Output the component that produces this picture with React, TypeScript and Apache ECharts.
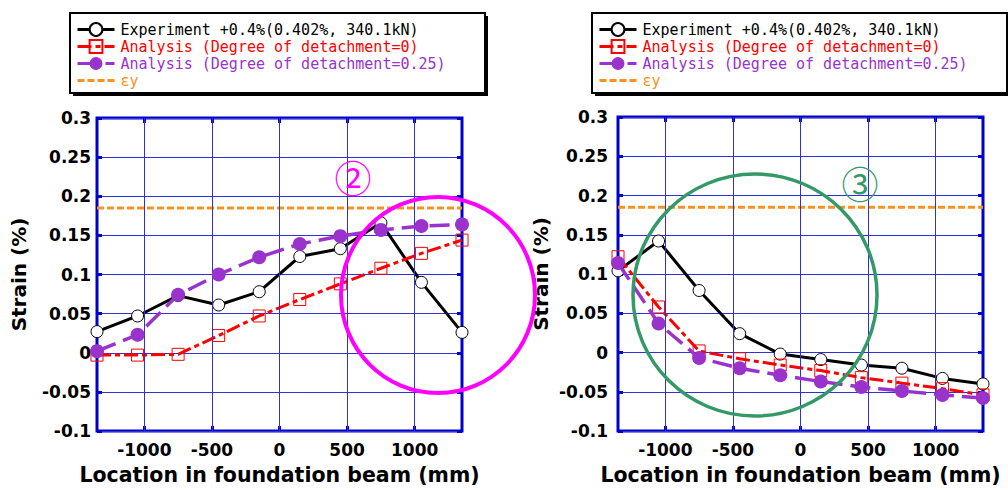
import React, { useEffect, useRef } from "react";
import * as echarts from "echarts";

// Gauge locations along the foundation beam (mm)
const positions = [-1350, -1050, -750, -450, -150, 150, 450, 750, 1050, 1350];

// Panel ② (left)
const exp2 = [0.027, 0.047, 0.073, 0.061, 0.078, 0.123, 0.133, 0.166, 0.09, 0.026];
const ana0_2 = [-0.003, -0.003, -0.002, 0.022, 0.047, 0.068, 0.088, 0.108, 0.127, 0.144];
const ana25_2 = [0.002, 0.023, 0.074, 0.1, 0.122, 0.139, 0.149, 0.157, 0.162, 0.164];

// Panel ③ (right)
const exp3 = [0.104, 0.142, 0.079, 0.024, -0.002, -0.009, -0.016, -0.02, -0.033, -0.04];
const ana0_3 = [0.122, 0.058, 0.002, -0.008, -0.016, -0.023, -0.032, -0.039, -0.046, -0.054];
const ana25_3 = [0.114, 0.037, -0.007, -0.02, -0.029, -0.037, -0.044, -0.049, -0.054, -0.058];

// Yield strain (%)
const yieldStrain = 0.185;

// Axis settings
const xTicks = [-1000, -500, 0, 500, 1000];
const X_MIN = -1350;
const X_MAX = 1350;
const Y_MIN = -0.1;
const Y_MAX = 0.3;
const Y_STEP = 0.05;

const NAME_EXP = "Experiment +0.4%(0.402%, 340.1kN)";
const NAME_A0 = "Analysis (Degree of detachment=0)";
const NAME_A25 = "Analysis (Degree of detachment=0.25)";
const NAME_EY = "εy";
const X_TITLE = "Location in foundation beam (mm)";
const Y_TITLE = "Strain (%)";

const C_BLACK = "#000000";
const C_RED = "#ff0000";
const C_PURPLE = "#9933cc";
const C_ORANGE = "#f7931e";
const C_FRAME = "#0000cc";
const C_GRID = "#3030d8";
const C_MAGENTA = "#ff00ff";
const C_GREEN = "#339966";
const TRANSPARENT = "rgba(0,0,0,0)";

const zip = (ys: number[]) => positions.map((x, i) => [x, ys[i]]);

const FONT_AX = "DejaVu Sans";
const FONT_LEG = "DejaVu Sans Mono";

function buildSeries(gi: number, exp: number[], a0: number[], a25: number[]) {
  const xi = gi * 2;
  const yi = gi * 2;
  const common = { xAxisIndex: xi, yAxisIndex: yi, type: "line", emphasis: { disabled: true } };
  return [
    {
      // vertical grid lines at the labelled locations
      ...common,
      name: "grid-" + gi,
      data: [],
      silent: true,
      z: 1,
      markLine: {
        silent: true,
        symbol: ["none", "none"],
        label: { show: false },
        lineStyle: { color: C_GRID, width: 1, type: "solid" },
        emphasis: { disabled: true },
        data: xTicks.map((v) => ({ xAxis: v })),
      },
    },
    {
      ...common,
      name: NAME_EY,
      data: [
        [X_MIN, yieldStrain],
        [X_MAX, yieldStrain],
      ],
      symbol: "none",
      color: C_ORANGE,
      lineStyle: { color: C_ORANGE, width: 3, type: [7, 3] },
      z: 2,
    },
    {
      ...common,
      name: NAME_EXP,
      data: zip(exp),
      symbol: "circle",
      symbolSize: 12,
      color: C_BLACK,
      itemStyle: { color: "#ffffff", borderColor: C_BLACK, borderWidth: 1 },
      lineStyle: { color: C_BLACK, width: 3 },
      z: 3,
    },
    {
      ...common,
      name: NAME_A0,
      data: zip(a0),
      symbol: "rect",
      symbolSize: 12,
      color: C_RED,
      itemStyle: { color: "rgba(255,255,255,0)", borderColor: C_RED, borderWidth: 1 },
      lineStyle: { color: C_RED, width: 3, type: [14, 4, 5, 4] },
      z: 4,
    },
    {
      ...common,
      name: NAME_A25,
      data: zip(a25),
      symbol: "circle",
      symbolSize: 14,
      color: C_PURPLE,
      itemStyle: { color: C_PURPLE },
      lineStyle: { color: C_PURPLE, width: 3.5, type: [20, 8] },
      z: 5,
    },
  ];
}

function xAxes(gi: number) {
  const tick = {
    show: true,
    inside: true,
    length: 5,
    customValues: xTicks,
    lineStyle: { color: C_FRAME, width: 3 },
  };
  return [
    {
      gridIndex: gi,
      type: "value",
      position: "bottom",
      min: X_MIN,
      max: X_MAX,
      axisLine: { show: false, onZero: false },
      axisTick: tick,
      axisLabel: {
        customValues: xTicks,
        formatter: (v: number) => String(v),
        margin: 10,
        color: "#000",
        fontFamily: FONT_AX,
        fontWeight: "bold",
        fontSize: 17,
      },
      splitLine: { show: false },
      name: X_TITLE,
      nameLocation: "middle",
      nameGap: 33,
      nameTextStyle: { color: "#000", fontFamily: FONT_AX, fontWeight: "bold", fontSize: 20.5 },
    },
    {
      gridIndex: gi,
      type: "value",
      position: "top",
      min: X_MIN,
      max: X_MAX,
      axisLine: { show: false, onZero: false },
      axisTick: tick,
      axisLabel: { show: false },
      splitLine: { show: false },
    },
  ];
}

function yAxes(gi: number, labelMargin: number, nameGap: number) {
  const tick = { show: true, inside: true, length: 5, lineStyle: { color: C_FRAME, width: 3 } };
  return [
    {
      gridIndex: gi,
      type: "value",
      position: "left",
      min: Y_MIN,
      max: Y_MAX,
      interval: Y_STEP,
      axisLine: { show: false, onZero: false },
      axisTick: tick,
      axisLabel: {
        margin: labelMargin,
        color: "#000",
        fontFamily: FONT_AX,
        fontWeight: "bold",
        fontSize: 17,
      },
      splitLine: { show: true, lineStyle: { color: C_GRID, width: 1 } },
      name: Y_TITLE,
      nameLocation: "middle",
      nameRotate: 90,
      nameGap,
      nameTextStyle: { color: "#000", fontFamily: FONT_AX, fontWeight: "bold", fontSize: 20 },
    },
    {
      gridIndex: gi,
      type: "value",
      position: "right",
      min: Y_MIN,
      max: Y_MAX,
      interval: Y_STEP,
      axisLine: { show: false, onZero: false },
      axisTick: tick,
      axisLabel: { show: false },
      splitLine: { show: false },
    },
  ];
}

function legend(left: number) {
  return {
    orient: "vertical",
    left,
    top: 13,
    padding: [9, 20, 6, 6],
    itemGap: 2,
    itemWidth: 37,
    itemHeight: 16,
    backgroundColor: "transparent",
    borderWidth: 0,
    selectedMode: false,
    lineStyle: { width: 3 },
    textStyle: { fontFamily: FONT_LEG, fontSize: 15, padding: [0, 0, 0, 1] },
    data: [
      { name: NAME_EXP, textStyle: { color: C_BLACK } },
      { name: NAME_A0, textStyle: { color: C_RED } },
      { name: NAME_A25, textStyle: { color: C_PURPLE } },
      {
        name: NAME_EY,
        itemStyle: { color: TRANSPARENT, borderColor: TRANSPARENT, borderWidth: 0 },
        textStyle: { color: C_ORANGE },
      },
    ],
  };
}

// legend frame boxes [left, top, width, height]
const legendBoxes = [
  [70, 13, 415, 80],
  [592, 13, 415, 80],
];

export default function App() {
  const ref = useRef<HTMLDivElement>(null);

  useEffect(() => {
    if (!ref.current) return;
    const chart = echarts.init(ref.current, null, { renderer: "svg" });
    const boxGraphics: any[] = [];
    legendBoxes.forEach(([l, t, w, h]) => {
      boxGraphics.push({
        type: "rect",
        z: 0,
        silent: true,
        shape: { x: l + 3, y: t + 3, width: w, height: h },
        style: { fill: "#000" },
      });
      boxGraphics.push({
        type: "rect",
        z: 0,
        silent: true,
        shape: { x: l, y: t, width: w, height: h },
        style: { fill: "#fff", stroke: "#000", lineWidth: 2 },
      });
    });
    const option = {
      animation: false,
      backgroundColor: "#fff",
      grid: [
        { left: 97, top: 118, width: 365, height: 316, show: true, borderColor: C_FRAME, borderWidth: 3, backgroundColor: "transparent" },
        { left: 618, top: 117, width: 365, height: 316, show: true, borderColor: C_FRAME, borderWidth: 3, backgroundColor: "transparent" },
      ],
      xAxis: [...xAxes(0), ...xAxes(1)],
      yAxis: [...yAxes(0, 6, 68), ...yAxes(1, 10, 67)],
      legend: [legend(70), legend(592)],
      series: [...buildSeries(0, exp2, ana0_2, ana25_2), ...buildSeries(1, exp3, ana0_3, ana25_3)],
      graphic: [
        ...boxGraphics,
        {
          type: "ellipse",
          z: 100,
          shape: { cx: 438, cy: 295, rx: 97, ry: 98 },
          style: { fill: "none", stroke: C_MAGENTA, lineWidth: 4 },
          silent: true,
        },
        {
          type: "text",
          z: 100,
          x: 353,
          y: 177,
          style: {
            text: "②",
            fontSize: 37,
            fontFamily: "Noto Sans CJK JP",
            fill: C_MAGENTA,
            align: "center",
            verticalAlign: "middle",
          },
        },
        {
          type: "ellipse",
          z: 100,
          shape: { cx: 755, cy: 295, rx: 122, ry: 121 },
          style: { fill: "none", stroke: C_GREEN, lineWidth: 3.5 },
          silent: true,
        },
        {
          type: "text",
          z: 100,
          x: 860,
          y: 183,
          style: {
            text: "③",
            fontSize: 37,
            fontFamily: "Noto Sans CJK JP",
            fill: C_GREEN,
            align: "center",
            verticalAlign: "middle",
          },
        },
      ],
    };
    chart.setOption(option as any);
    return () => chart.dispose();
  }, []);

  return (
    <div
      ref={ref}
      style={{ position: "fixed", left: 0, top: 0, width: 1008, height: 490, background: "#fff" }}
    />
  );
}
